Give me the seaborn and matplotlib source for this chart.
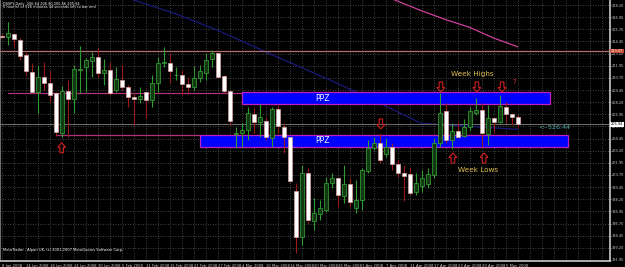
import numpy as np
import pandas as pd
import matplotlib
matplotlib.use("Agg")
import matplotlib.pyplot as plt
from matplotlib.patches import Rectangle, Polygon
import seaborn as sns

# ---------------- data ----------------
opens = [215.04, 214.88, 215.22, 214.60, 213.05, 211.34, 209.27, 210.79, 210.17, 209.14,
         205.05, 209.38, 208.49, 211.56, 211.79, 212.47, 212.88, 211.17, 211.51, 209.45,
         210.48, 209.73, 208.70, 208.56, 209.27, 208.42, 210.14, 212.27, 212.26, 210.97,
         211.00, 210.07, 209.79, 210.69, 211.23, 212.61, 213.23, 210.89, 209.38, 204.97,
         205.05, 205.33, 206.98, 206.19, 206.29, 204.48, 207.46, 205.67, 204.58, 199.05,
         194.28, 200.87, 196.00, 196.68, 197.09, 199.90, 200.36, 198.56, 199.74, 197.27,
         198.12, 201.14, 203.44, 204.02, 202.86, 203.55, 201.83, 200.93, 200.80, 198.97,
         199.56, 199.77, 200.70, 204.02, 207.32, 204.30, 205.26, 204.71, 205.67, 207.11,
         207.39, 204.92, 206.54, 206.19, 207.73, 206.98, 206.64]
highs = [215.22, 216.45, 215.32, 214.81, 213.39, 212.23, 212.03, 212.37, 211.51, 209.27,
         209.86, 210.48, 212.03, 213.98, 212.75, 213.39, 213.78, 212.64, 212.37, 211.82,
         212.03, 209.97, 209.14, 209.79, 209.27, 211.00, 212.82, 213.85, 213.29, 211.82,
         211.51, 210.82, 211.92, 212.03, 213.26, 213.57, 213.39, 211.00, 209.45, 205.67,
         206.05, 207.70, 207.60, 208.01, 206.67, 207.70, 207.91, 206.05, 204.64, 199.87,
         201.72, 201.38, 198.33, 198.12, 200.52, 200.87, 200.52, 201.72, 200.36, 200.18,
         201.42, 204.30, 204.58, 205.05, 204.47, 203.96, 202.24, 201.72, 201.55, 200.90,
         201.21, 201.42, 204.51, 209.11, 208.11, 206.05, 206.19, 206.43, 207.73, 208.59,
         208.11, 207.91, 206.70, 208.94, 208.25, 207.05, 206.90]
lows = [214.81, 214.09, 213.88, 212.54, 211.00, 209.14, 207.08, 209.45, 208.24, 204.71,
        204.64, 204.64, 207.08, 209.14, 209.27, 210.82, 210.82, 209.97, 208.94, 209.27,
        209.45, 207.73, 205.85, 208.11, 206.57, 207.73, 209.27, 211.85, 210.14, 210.48,
        208.94, 209.27, 209.45, 210.27, 210.48, 211.85, 210.65, 209.11, 205.85, 203.44,
        203.61, 204.30, 204.99, 204.64, 204.30, 203.61, 204.99, 202.93, 200.00, 192.63,
        193.48, 195.72, 195.03, 196.06, 196.92, 199.32, 197.43, 197.78, 197.43, 196.81,
        197.09, 200.87, 203.27, 201.90, 202.58, 201.21, 200.52, 198.05, 198.63, 198.63,
        198.94, 199.36, 200.39, 203.61, 203.96, 203.34, 204.47, 204.58, 205.33, 206.88,
        203.61, 203.79, 205.16, 206.05, 206.02, 205.85, 205.66]
closes = [214.88, 215.29, 214.67, 212.95, 211.41, 209.27, 210.79, 210.17, 208.94, 205.16,
          209.38, 208.52, 211.61, 211.61, 212.54, 212.82, 211.17, 211.51, 209.17, 210.55,
          209.73, 208.70, 208.56, 208.83, 208.42, 210.20, 212.26, 212.30, 211.44, 211.00,
          210.07, 209.79, 210.65, 211.44, 212.54, 213.23, 210.82, 209.38, 206.29, 205.00,
          205.33, 207.05, 206.19, 206.70, 204.58, 207.46, 205.74, 204.58, 200.11, 194.28,
          200.87, 196.06, 196.75, 197.27, 199.90, 200.36, 198.63, 199.77, 197.88, 198.12,
          201.21, 203.44, 204.02, 202.24, 203.55, 201.83, 200.93, 200.59, 198.87, 199.84,
          200.39, 200.80, 203.96, 207.11, 204.30, 205.26, 204.64, 205.61, 207.32, 207.39,
          204.99, 206.54, 206.19, 207.80, 206.98, 206.70, 205.94]

date_labels = ["8 Jan 2008", "14 Jan 2008", "18 Jan 2008", "24 Jan 2008", "30 Jan 2008",
               "5 Feb 2008", "11 Feb 2008", "15 Feb 2008", "21 Feb 2008", "27 Feb 2008",
               "4 Mar 2008", "10 Mar 2008", "14 Mar 2008", "20 Mar 2008", "26 Mar 2008",
               "1 Apr 2008", "7 Apr 2008", "11 Apr 2008", "17 Apr 2008", "23 Apr 2008",
               "29 Apr 2008", "5 May 2008"]
price_ticks = [191.95, 193.20, 194.45, 195.70, 196.95, 198.20, 199.45, 200.70, 201.95,
               203.20, 204.45, 205.70, 206.95, 208.20, 209.45, 210.70, 211.95, 213.20,
               214.45, 215.70, 216.95, 218.20]

# moving averages (bar index, price)
ma_blue_bar = [18, 22, 29, 36, 45, 55, 63, 70, 78, 86]
ma_blue_val = [219.6, 218.72, 217.3, 215.6, 213.1, 210.4, 208.1, 206.0, 205.7, 205.4]
ma_pink_bar = [64, 66, 70, 74, 78, 82, 86]
ma_pink_val = [219.1, 218.6, 217.6, 216.7, 215.9, 214.8, 213.9]

resistance_line = 213.47
bid_price = 205.94
ppz_upper = (40.0, 91.4, 207.98, 209.21)   # bar from, bar to, low, high
ppz_lower = (33.0, 94.4, 203.61, 204.82)
pink_line_upper = (1.0, 40.0, 209.19)
pink_line_lower = (9.0, 33.0, 204.82)

up_arrows = [(10, 203.5), (75.2, 202.45), (80.4, 202.45)]
down_arrows = [(63.2, 205.95), (73.2, 209.76), (79.2, 209.76), (83.4, 209.76)]

# ---------------- style ----------------
sns.set_theme(style="dark", rc={"axes.facecolor": "black", "figure.facecolor": "black",
                                "axes.edgecolor": "#bdbdbd", "text.color": "white"})
plt.rcParams["font.family"] = ["DejaVu Sans"]

W, H = 625, 267
fig = plt.figure(figsize=(W / 100, H / 100), dpi=100)
ax_right_px, ax_bottom_px = 610, 261
ax = fig.add_axes([0, (H - ax_bottom_px) / H, ax_right_px / W, ax_bottom_px / H])
ax.set_facecolor("black")

bar_w = 6.0
x0_px = 1.7
YMIN, YMAX = 191.84, 218.72
ax.set_xlim(-x0_px / bar_w, (ax_right_px - x0_px) / bar_w)
ax.set_ylim(YMIN, YMAX)
ppx = (YMAX - YMIN) / ax_bottom_px   # price per pixel
bpx = 1 / bar_w                     # bars per pixel

# grid
for p in price_ticks:
    ax.axhline(p, color="#5a5a5a", lw=0.6, ls=(0, (1, 2)), zorder=0)
for b in np.arange(0, 102, 2):
    ax.axvline(b, color="#5a5a5a", lw=0.6, ls=(0, (1, 2)), zorder=0)

# moving averages via seaborn
sns.lineplot(x=ma_blue_bar, y=ma_blue_val, ax=ax, color="#1a1a7a", lw=0.9, zorder=1)
sns.lineplot(x=ma_pink_bar, y=ma_pink_val, ax=ax, color="#d0409a", lw=0.9, zorder=1)

# horizontal lines
ax.axhline(resistance_line, color="#b07070", lw=0.9, zorder=1)
ax.axhline(bid_price, color="#707070", lw=0.7, zorder=1)
ax.plot([pink_line_upper[0], pink_line_upper[1]], [pink_line_upper[2]] * 2, color="#b0307a", lw=0.9, zorder=1)
ax.plot([pink_line_lower[0], pink_line_lower[1]], [pink_line_lower[2]] * 2, color="#b0307a", lw=0.9, zorder=1)

# PPZ zones
for (b0, b1, lo, hi) in (ppz_upper, ppz_lower):
    ax.add_patch(Rectangle((b0, lo), b1 - b0, hi - lo, facecolor="#0000ff",
                           edgecolor="#c020c0", lw=0.9, zorder=2))

# candles
bw = 0.6
for i, (o, h, l, c) in enumerate(zip(opens, highs, lows, closes)):
    up = c >= o
    wick_col = "#2f9a2f" if up else "#9a1a1a"
    ax.plot([i, i], [l, h], color=wick_col, lw=0.8, zorder=3, solid_capstyle="butt")
    lo_b, hi_b = min(o, c), max(o, c)
    hgt = max(hi_b - lo_b, 0.04)
    if up:
        fc, ec = "#123a12", "#3aaa3a"
    else:
        fc, ec = "white", "#d8a0a0"
    ax.add_patch(Rectangle((i - bw / 2, lo_b), bw, hgt, facecolor=fc, edgecolor=ec,
                           lw=0.5, zorder=4))

# hollow arrows
up_shape = [(0, 5), (4, 0.5), (1.8, 0.5), (1.8, -5), (-1.8, -5), (-1.8, 0.5), (-4, 0.5)]
for (b, p) in up_arrows:
    pts = [(b + dx * bpx, p + dy * ppx) for dx, dy in up_shape]
    ax.add_patch(Polygon(pts, closed=True, facecolor="none", edgecolor="#d02020", lw=0.8, zorder=6))
for (b, p) in down_arrows:
    pts = [(b + dx * bpx, p - dy * ppx) for dx, dy in up_shape]
    ax.add_patch(Polygon(pts, closed=True, facecolor="none", edgecolor="#d02020", lw=0.8, zorder=6))

# annotations
ax.text(53.5, 208.55, "PPZ", color="white", fontsize=5.5, ha="center", va="center", zorder=6)
ax.text(53.5, 204.2, "PPZ", color="white", fontsize=5.5, ha="center", va="center", zorder=6)
ax.text(78.4, 211.1, "Week Highs", color="#e0c050", fontsize=5.2, ha="center", va="center", zorder=6)
ax.text(79.4, 201.2, "Week Lows", color="#e0c050", fontsize=5.2, ha="center", va="center", zorder=6)
ax.text(89.4, 205.55, "<--526:44", color="#50b0a8", fontsize=4.6, ha="left", va="center", zorder=6)
ax.text(85.5, 210.3, "?", color="#d03030", fontsize=5, ha="center", va="center", zorder=6)

# axes / ticks
ax.spines["top"].set_visible(False)
ax.spines["right"].set_color("#c0c0c0")
ax.spines["bottom"].set_color("#c0c0c0")
ax.spines["left"].set_color("#808080")
ax.yaxis.tick_right()
ax.set_yticks(price_ticks)
ax.set_yticklabels([f"{p:.2f}" for p in price_ticks], fontsize=2.55, color="#d0d0d0")
ax.tick_params(axis="y", direction="out", length=1.0, width=0.5, color="#c0c0c0", pad=0.4)
ax.set_xticks(np.arange(0, 4 * len(date_labels), 4))
ax.set_xticklabels(date_labels, fontsize=2.7, color="#d0d0d0", ha="left")
ax.tick_params(axis="x", direction="out", length=2, width=0.5, color="#c0c0c0", pad=0.5)
ax.set_xlabel("")
ax.set_ylabel("")

# axis price labels
ax.text(1.0015, (resistance_line - YMIN) / (YMAX - YMIN), f"{resistance_line:.2f}",
        transform=ax.transAxes, fontsize=2.55, color="white", ha="left", va="center",
        bbox=dict(boxstyle="square,pad=0.12", fc="#c84830", ec="none"), zorder=7, clip_on=False)
ax.text(1.0015, (bid_price - YMIN) / (YMAX - YMIN), f"{bid_price:.2f}",
        transform=ax.transAxes, fontsize=2.55, color="black", ha="left", va="center",
        bbox=dict(boxstyle="square,pad=0.12", fc="white", ec="none"), zorder=7, clip_on=False)

# header / footer text
fig.text(3 / W, 1 - 3.5 / H, "DSSPY,Daily  206.64 206.90 205.66 205.94", fontsize=2.5,
         color="white", ha="left", va="center")
fig.text(3 / W, 1 - 7.5 / H, "0 hour(s) or 526 minutes 44 seconds left to bar end", fontsize=2.5,
         color="white", ha="left", va="center")
fig.text(3 / W, 1 - 250 / H, "MetaTrader - Alpari UK, (c) 2001-2007 MetaQuotes Software Corp.",
         fontsize=2.6, color="white", ha="left", va="center")

fig.savefig("out.png", dpi=100, facecolor="black")
